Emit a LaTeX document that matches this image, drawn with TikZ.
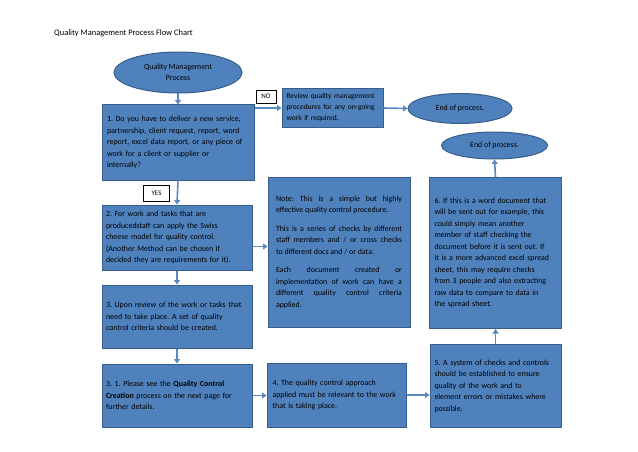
\documentclass[tikz,border=0pt]{standalone}
\usepackage{fontspec}
\setmainfont{Carlito}
\usetikzlibrary{arrows.meta,shapes.geometric}
\definecolor{boxfill}{HTML}{4F81BD}
\definecolor{boxline}{HTML}{385D8A}
\definecolor{arrowc}{HTML}{5A88C2}
\newcommand\myboxfont{\fontsize{7.9}{11.5}\selectfont\frenchspacing\hyphenpenalty=10000\relax\exhyphenpenalty=10000\relax}
\newcommand\myrvfont{\fontsize{7.5}{11}\selectfont\frenchspacing\hyphenpenalty=10000\relax\exhyphenpenalty=10000\relax}
\tikzset{
  txt/.style={font=\myboxfont},
  box/.style={draw=boxline,line width=1pt,fill=boxfill,rectangle,inner sep=0pt,txt,align=left},
  oval/.style={draw=boxline,line width=1pt,fill=boxfill,ellipse,inner sep=0pt,txt,align=center},
  tag/.style={draw=black,line width=0.6pt,fill=white,inner sep=0pt,font=\fontsize{7}{8}\selectfont},
  arr/.style={draw=arrowc,line width=1.6pt,-{Triangle[length=4.5pt,width=6pt]}}
}
\begin{document}
\begin{tikzpicture}[x=1pt,y=-1pt]
\useasboundingbox[fill=white] (0,0) rectangle (638,452);
\node[anchor=west,font=\fontsize{8.4}{9}\selectfont,inner sep=0pt] (title) at (54,33) {Quality Management Process Flow Chart};

\node[oval,minimum width=128pt,minimum height=41pt] (e1) at (178,72.5) {Quality Management\\Process};

\node[box,minimum width=152pt,minimum height=75pt,text width=142pt] (b1) at (178,142.5) {1. Do you have to deliver a new service,\\ partnership, client request, report, word\\ report, excel data report, or any piece of\\ work for a client or supplier or\\ internally?\\[7pt]};

\node[box,minimum width=101pt,minimum height=39pt,text width=92pt,font=\myrvfont] (rv) at (332.5,108) {Review quality management\\ procedures for any on-going\\ work if required.};

\node[oval,minimum width=104pt,minimum height=30pt] (end1) at (460,108.5) {End of process.};
\node[oval,minimum width=106pt,minimum height=27pt] (end2) at (494.5,145.5) {End of process.};

\node[tag,minimum width=20pt,minimum height=13pt] (no) at (266,96.5) {NO};
\node[tag,minimum width=26pt,minimum height=16pt] (yes) at (156.5,193) {YES};

\node[box,minimum width=150pt,minimum height=65pt,text width=142pt] (b2) at (177,237.5) {2. For work and tasks that are\\ producedstaff can apply the Swiss\\ cheese model for quality control.\\ (Another Method can be chosen if\\ decided they are requirements for it).};

\node[box,minimum width=150pt,minimum height=63pt,text width=142pt] (b3) at (177,316.5) {3. Upon review of the work or tasks that\\ need to take place. A set of quality\\ control criteria should be created.\\[6pt]};

\node[box,minimum width=150pt,minimum height=63pt,text width=142pt] (b31) at (177,395.5) {3. 1. Please see the \textbf{Quality Control}\\ \textbf{Creation} process on the next page for\\ further details.\\[6pt]};

\node[box,minimum width=139pt,minimum height=64pt,text width=128pt] (b4) at (336.5,395) {4. The quality control approach\\ applied must be relevant to the work\\ that is taking place.\\[6pt]};

\node[box,minimum width=142pt,minimum height=150pt,text width=126pt,align=justify] (note) at (339,252) {Note: This is a simple but highly\linebreak effective quality control procedure.\par\vspace{7pt}This is a series of checks by different\linebreak staff members and / or cross checks\linebreak to different docs and / or data.\par\vspace{7pt}Each document created or\linebreak implementation of work can have a\linebreak different quality control criteria\linebreak applied.\par\vspace{26pt}};

\node[box,minimum width=131pt,minimum height=83pt,text width=122pt] (b5) at (495.5,386) {5. A system of checks and controls\\ should be established to ensure\\ quality of the work and to\\ element errors or mistakes where\\ possible.\\[12pt]};

\node[box,minimum width=132pt,minimum height=151pt,text width=122pt] (b6) at (495.5,253) {6. If this is a word document that\\ will be sent out for example, this\\ could simply mean another\\ member of staff checking the\\ document before it is sent out. If\\ it is a more advanced excel spread\\ sheet, this may require checks\\ from 3 people and also extracting\\ raw data to compare to data in\\ the spread sheet.\\[3pt]};

\draw[arr] (e1.south) -- (b1.north);
\draw[arr] (b1.east |- rv.west) -- (rv.west);
\draw[arr] (rv.east) -- (end1.west);
\draw[arr] (b1.south) -- (b2.north);
\draw[arr] ([yshift=-9pt]b2.east) -- ([yshift=-9pt]b2.east -| note.west);
\draw[arr] (b2.south) -- (b3.north);
\draw[arr] (b3.south) -- (b31.north);
\draw[arr] (b31.east) -- (b31.east -| b4.west);
\draw[arr] (b4.east) -- (b4.east -| b5.west);
\draw[arr] (b5.north) -- (b6.south);
\draw[arr] (b6.north) -- (end2.south);
\end{tikzpicture}
\end{document}
